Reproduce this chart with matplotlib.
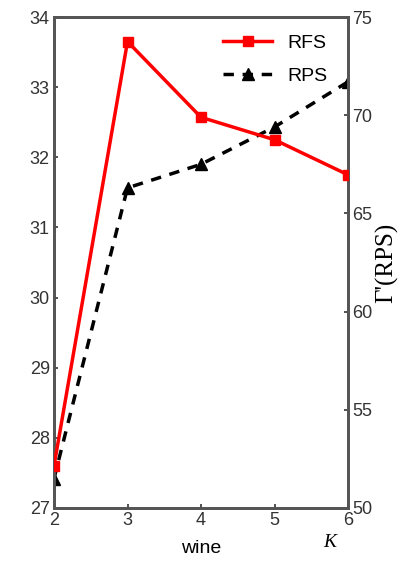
import numpy as np
import matplotlib
matplotlib.use('Agg')
from matplotlib import pyplot as plt

k = [2, 3, 4, 5, 6]
rfs = [27.6, 33.65, 32.57, 32.25, 31.75]
rps = [51.5, 66.3, 67.5, 69.4, 71.7]

plt.rcParams['font.family'] = ['Liberation Sans', 'DejaVu Sans']

fig = plt.figure(figsize=(4.18, 5.64), dpi=100)
ax1 = fig.add_axes([54/418, 1 - 508/564, (348-54)/418, (508-17)/564])
ax2 = ax1.twinx()

ax1.plot(k, rfs, color='red', lw=2.5, marker='s', ms=7, label='RFS', zorder=3)
ax2.plot(k, rps, color='black', lw=2.5, ls=(0, (3, 2.5)), marker='^', ms=9, label='RPS')

ax1.set_xlim(2, 6)
ax1.set_ylim(27, 34)
ax2.set_ylim(50, 75)
ax1.set_xticks(k)
ax1.set_yticks(range(27, 35))
ax2.set_yticks(range(50, 76, 5))

for ax in (ax1, ax2):
    ax.tick_params(direction='in', length=3, width=1.2, labelsize=13, colors='#333333', pad=3)
    for s in ax.spines.values():
        s.set_color('#555555')
        s.set_linewidth(2)
ax1.set_zorder(ax2.get_zorder() + 1)
ax1.patch.set_visible(False)

ax1.set_xlabel('wine', fontsize=14, labelpad=8)
ax2.set_ylabel("Γ'(RPS)", fontsize=18, family='Liberation Serif', labelpad=2)
ax1.text(5.75, -0.07, 'K', transform=ax1.get_xaxis_transform(), fontsize=14,
         style='italic', family='Liberation Serif', ha='center', va='center')

h1, l1 = ax1.get_legend_handles_labels()
h2, l2 = ax2.get_legend_handles_labels()
ax1.legend(h1 + h2, l1 + l2, loc='upper right', bbox_to_anchor=(0.99, 1.0),
           frameon=False, fontsize=14, handlelength=2.5, labelspacing=0.8)

fig.savefig('out.png', dpi=100)
